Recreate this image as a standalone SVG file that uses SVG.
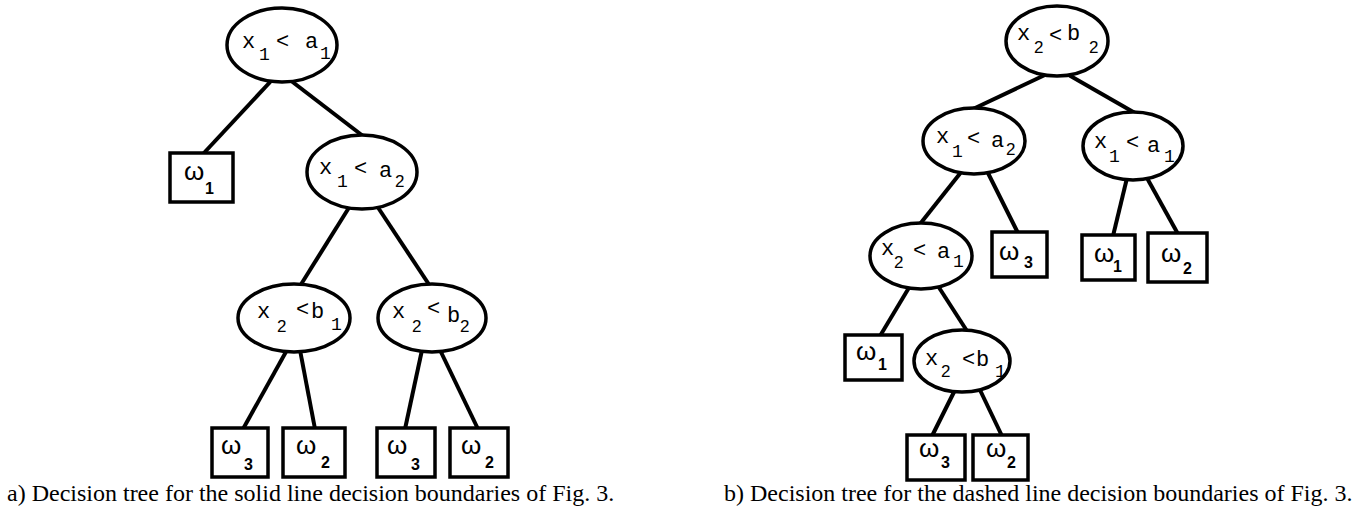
<svg xmlns="http://www.w3.org/2000/svg" width="1370" height="512" viewBox="0 0 1370 512">
<style>
.n{fill:#fff;stroke:#000;stroke-width:3.5}
.e line{stroke:#000;stroke-width:4;stroke-linecap:butt}
.m{font-family:"Liberation Mono","DejaVu Sans Mono",monospace;font-size:22px;fill:#000}
.ms{font-family:"Liberation Mono","DejaVu Sans Mono",monospace;font-size:18px;fill:#000}
.ss{font-family:"Liberation Sans",Arial,sans-serif;font-size:17px;fill:#000}
.w{font-family:"Liberation Sans","DejaVu Sans",sans-serif;font-size:26px;fill:#000}
.ws{font-family:"Liberation Sans",Arial,sans-serif;font-size:16px;font-weight:bold;fill:#000}
.cap{font-family:"Liberation Serif","Times New Roman",serif;font-size:24px;fill:#000}
</style>
<rect width="1370" height="512" fill="#fff"/>
<g class="e" id="connectors">
<line x1="272" y1="80" x2="203" y2="154"/>
<line x1="290" y1="80" x2="363" y2="136"/>
<line x1="350" y1="206" x2="300" y2="286"/>
<line x1="377" y1="206" x2="430" y2="286"/>
<line x1="287" y1="350" x2="243" y2="429"/>
<line x1="300" y1="350" x2="315" y2="429"/>
<line x1="422" y1="350" x2="405" y2="429"/>
<line x1="440" y1="350" x2="478" y2="429"/>
<line x1="1047" y1="74" x2="973" y2="109"/>
<line x1="1067" y1="74" x2="1135" y2="113"/>
<line x1="962" y1="171" x2="920" y2="224"/>
<line x1="987" y1="171" x2="1018" y2="233"/>
<line x1="1127" y1="178" x2="1113" y2="236"/>
<line x1="1147" y1="178" x2="1178" y2="234"/>
<line x1="910" y1="286" x2="880" y2="336"/>
<line x1="938" y1="286" x2="967" y2="331"/>
<line x1="955" y1="390" x2="932" y2="436"/>
<line x1="980" y1="390" x2="1002" y2="436"/>
</g>
<g id="a_root">
<ellipse class="n" cx="282" cy="45" rx="55" ry="37"/>
<text class="m" x="242" y="48">x</text><text class="ms" x="259" y="60">1</text><text class="m" x="276" y="48">&lt;</text><text class="m" x="305" y="48">a</text><text class="ms" x="320" y="59">1</text>
</g>
<g id="a_w1">
<rect class="n" x="170" y="153" width="63" height="49"/>
<text class="w" x="184" y="180">ω</text><text class="ws" x="205" y="194">1</text>
</g>
<g id="a_x1a2">
<ellipse class="n" cx="362" cy="172" rx="55" ry="37"/>
<text class="m" x="319" y="174">x</text><text class="ms" x="337" y="187">1</text><text class="m" x="354" y="175">&lt;</text><text class="m" x="379" y="177">a</text><text class="ss" x="395" y="187">2</text>
</g>
<g id="a_x2b1">
<ellipse class="n" cx="294" cy="318" rx="56" ry="34"/>
<text class="m" x="257" y="318">x</text><text class="ss" x="277" y="332">2</text><text class="m" x="296" y="316">&lt;</text><text class="m" x="311" y="318">b</text><text class="ms" x="331" y="330">1</text>
</g>
<g id="a_x2b2">
<ellipse class="n" cx="432" cy="318" rx="54" ry="34"/>
<text class="m" x="392" y="318">x</text><text class="ss" x="412" y="332">2</text><text class="m" x="427" y="315">&lt;</text><text class="m" x="447" y="322">b</text><text class="ss" x="460" y="332">2</text>
</g>
<g id="a_w3a">
<rect class="n" x="212" y="428" width="56" height="49"/>
<text class="w" x="221" y="454">ω</text><text class="ws" x="244" y="470">3</text>
</g>
<g id="a_w2a">
<rect class="n" x="283" y="428" width="62" height="49"/>
<text class="w" x="296" y="454">ω</text><text class="ws" x="321" y="468">2</text>
</g>
<g id="a_w3b">
<rect class="n" x="377" y="428" width="58" height="49"/>
<text class="w" x="387" y="454">ω</text><text class="ws" x="411" y="470">3</text>
</g>
<g id="a_w2b">
<rect class="n" x="450" y="428" width="58" height="49"/>
<text class="w" x="461" y="454">ω</text><text class="ws" x="485" y="468">2</text>
</g>
<g id="b_root">
<ellipse class="n" cx="1057" cy="41" rx="51" ry="35"/>
<text class="m" x="1017" y="40">x</text><text class="ss" x="1034" y="53">2</text><text class="m" x="1049" y="42">&lt;</text><text class="m" x="1067" y="40">b</text><text class="ss" x="1089" y="53">2</text>
</g>
<g id="b_x1a2">
<ellipse class="n" cx="974" cy="141" rx="51" ry="33"/>
<text class="m" x="936" y="143">x</text><text class="ms" x="952" y="157">1</text><text class="m" x="967" y="145">&lt;</text><text class="m" x="991" y="147">a</text><text class="ss" x="1006" y="155">2</text>
</g>
<g id="b_x1a1">
<ellipse class="n" cx="1133" cy="146" rx="50" ry="34"/>
<text class="m" x="1094" y="148">x</text><text class="ms" x="1109" y="162">1</text><text class="m" x="1126" y="149">&lt;</text><text class="m" x="1147" y="152">a</text><text class="ms" x="1164" y="162">1</text>
</g>
<g id="b_x2a1">
<ellipse class="n" cx="921" cy="256" rx="51" ry="33"/>
<text class="m" x="881" y="255" font-size="18">x</text><text class="ss" x="894" y="268">2</text><text class="m" x="913" y="257" font-size="18">&lt;</text><text class="m" x="937" y="258" font-size="18">a</text><text class="ms" x="953" y="267">1</text>
</g>
<g id="b_w3">
<rect class="n" x="992" y="232" width="55" height="45"/>
<text class="w" x="999" y="260">ω</text><text class="ws" x="1024" y="268">3</text>
</g>
<g id="b_w1a">
<rect class="n" x="1082" y="235" width="53" height="45"/>
<text class="w" x="1094" y="262">ω</text><text class="ws" x="1113" y="272">1</text>
</g>
<g id="b_w2a">
<rect class="n" x="1148" y="233" width="59" height="49"/>
<text class="w" x="1161" y="262">ω</text><text class="ws" x="1183" y="274">2</text>
</g>
<g id="b_w1b">
<rect class="n" x="845" y="335" width="57" height="45"/>
<text class="w" x="856" y="360">ω</text><text class="ws" x="878" y="370">1</text>
</g>
<g id="b_x2b1">
<ellipse class="n" cx="962" cy="361" rx="48" ry="31"/>
<text class="m" x="925" y="365" font-size="18">x</text><text class="ss" x="941" y="377">2</text><text class="m" x="962" y="366" font-size="18">&lt;</text><text class="m" x="976" y="366" font-size="18">b</text><text class="ms" x="995" y="377">1</text>
</g>
<g id="b_w3b">
<rect class="n" x="907" y="435" width="58" height="45"/>
<text class="w" x="919" y="457">ω</text><text class="ws" x="941" y="468">3</text>
</g>
<g id="b_w2b">
<rect class="n" x="973" y="435" width="55" height="45"/>
<text class="w" x="986" y="457">ω</text><text class="ws" x="1007" y="468">2</text>
</g>
<text class="cap" x="7" y="501">a) Decision tree for the solid line decision boundaries of Fig. 3.</text>
<text class="cap" x="724" y="501">b) Decision tree for the dashed line decision boundaries of Fig. 3.</text>
</svg>
